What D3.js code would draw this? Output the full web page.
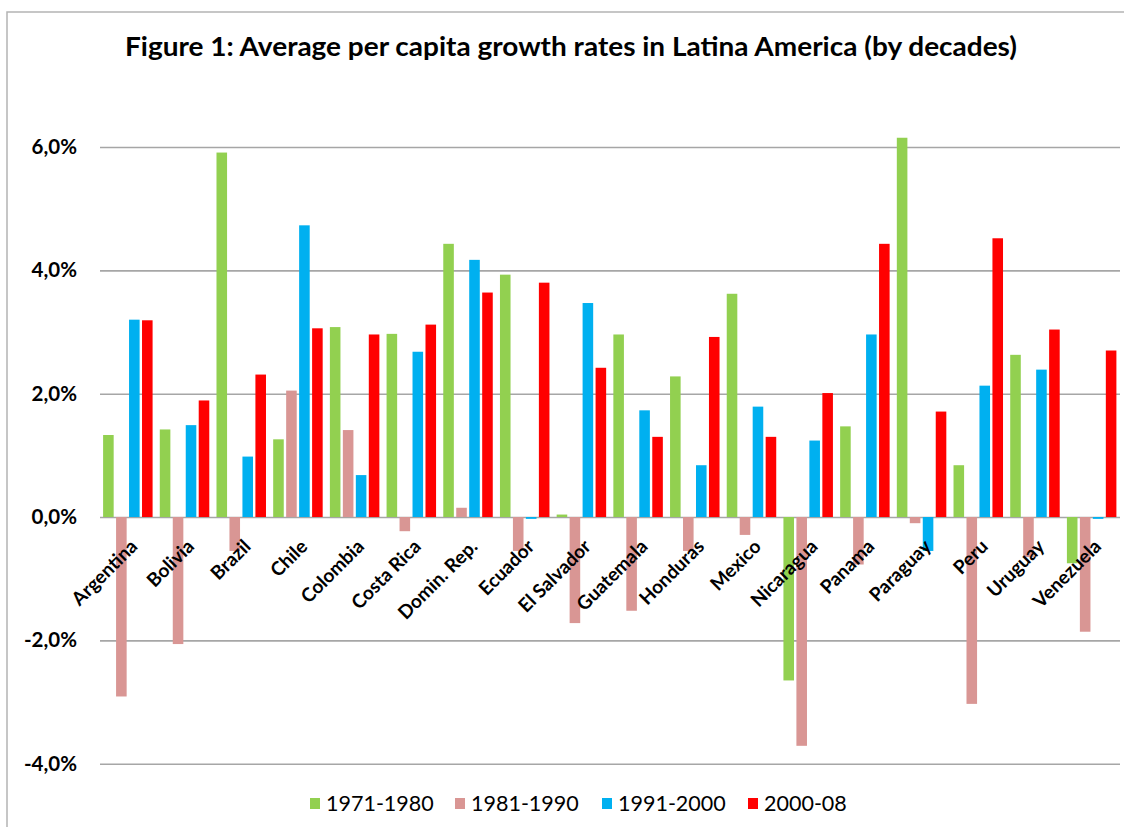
<!DOCTYPE html>
<html>
<head>
<meta charset="utf-8">
<script src="https://cdn.jsdelivr.net/npm/d3@7"></script>
<style>
  html, body { margin: 0; padding: 0; background: #fff; }
  svg { display: block; }
  text { font-family: Lato, "Open Sans", sans-serif; fill: #000; }
</style>
</head>
<body>
<svg id="chart" width="1124" height="827"></svg>
<script>
// ---- data (values in percent) ----
const countries = ["Argentina","Bolivia","Brazil","Chile","Colombia","Costa Rica","Domin. Rep.","Ecuador","El Salvador","Guatemala","Honduras","Mexico","Nicaragua","Panama","Paraguay","Peru","Uruguay","Venezuela"];
const seriesNames = ["1971-1980","1981-1990","1991-2000","2000-08"];
const s1971_1980 = [1.33, 1.42, 5.91, 1.26, 3.08, 2.97, 4.43, 3.93, 0.04, 2.96, 2.28, 3.62, -2.65, 1.47, 6.15, 0.84, 2.63, -0.75];
const s1981_1990 = [-2.91, -2.06, -0.55, 2.05, 1.41, -0.23, 0.15, -0.55, -1.72, -1.52, -0.55, -0.29, -3.71, -0.77, -0.10, -3.03, -0.65, -1.86];
const s1991_2000 = [3.20, 1.49, 0.98, 4.73, 0.68, 2.68, 4.17, -0.03, 3.47, 1.73, 0.84, 1.79, 1.24, 2.96, -0.55, 2.13, 2.39, -0.03];
const s2000_08   = [3.19, 1.89, 2.31, 3.06, 2.96, 3.12, 3.64, 3.80, 2.42, 1.30, 2.92, 1.30, 2.01, 4.43, 1.71, 4.52, 3.04, 2.70];
const yTicks = [-4, -2, 0, 2, 4, 6];
const titleText = "Figure 1: Average per capita growth rates in Latina America (by decades)";

const seriesValues = [s1971_1980, s1981_1990, s1991_2000, s2000_08];
const colors = ["#92D050", "#D99694", "#00B0F0", "#FF0000"];

const svg = d3.select("#chart");

// chart border
svg.append("rect").attr("x", 7).attr("y", 12).attr("width", 1140).attr("height", 900)
  .attr("fill", "none").attr("stroke", "#b4b4b4").attr("stroke-width", 1.5);

// title
svg.append("text").attr("x", 571).attr("y", 56).attr("text-anchor", "middle")
  .attr("font-size", 26).attr("font-weight", 700)
  .attr("textLength", 892).attr("lengthAdjust", "spacingAndGlyphs")
  .text(titleText);

// scales
const x0 = d3.scaleBand().domain(countries).range([99.5, 1120]).padding(0);
const gap = 2.4;
const x1 = d3.scaleBand().domain(seriesNames).range([gap, x0.bandwidth() - gap]).padding(0);
const y = d3.scaleLinear().domain([-4, 6]).range([763.7, 147]);

// gridlines + y labels
const fmt = v => v.toFixed(1).replace(".", ",") + "%";
const yAxis = d3.axisLeft(y).tickValues(yTicks).tickSize(-(1120 - 100)).tickFormat(fmt).tickPadding(23);
const gY = svg.append("g").attr("transform", "translate(100,0)").call(yAxis);
gY.select(".domain").remove();
gY.selectAll(".tick line").attr("stroke", "#a6a6a6").attr("stroke-width", 1.6);
gY.selectAll(".tick text").attr("font-size", 20.5).attr("font-weight", 700).attr("fill", "#000")
  .style("font-family", "Lato, sans-serif");

// bars
const rows = countries.map((c, i) => ({ country: c, vals: seriesNames.map((s, j) => ({ s, j, v: seriesValues[j][i] })) }));
const groups = svg.append("g").selectAll("g").data(rows).join("g")
  .attr("transform", d => `translate(${x0(d.country)},0)`);
groups.selectAll("rect").data(d => d.vals).join("rect")
  .attr("x", d => x1(d.s) + 1.2)
  .attr("width", x1.bandwidth() - 2.4)
  .attr("y", d => y(Math.max(0, d.v)))
  .attr("height", d => Math.abs(y(d.v) - y(0)))
  .attr("fill", d => colors[d.j]);

// category labels
svg.append("g").selectAll("text").data(countries).join("text")
  .attr("transform", d => `translate(${x0(d) + x0.bandwidth() / 2 + 6},543) rotate(-45)`)
  .attr("text-anchor", "end").attr("dy", "0.35em")
  .attr("font-size", 19).attr("font-weight", 700)
  .text(d => d);

// legend
const legendX = [310, 455, 602, 748];
const lg = svg.append("g").selectAll("g").data(seriesNames).join("g")
  .attr("transform", (d, i) => `translate(${legendX[i]},803)`);
lg.append("rect").attr("x", 0).attr("y", -5).attr("width", 10).attr("height", 11)
  .attr("fill", (d, i) => colors[i]);
lg.append("text").attr("x", 16).attr("y", 0).attr("dy", "0.35em")
  .attr("font-size", 21.5).text(d => d);
</script>
</body>
</html>
